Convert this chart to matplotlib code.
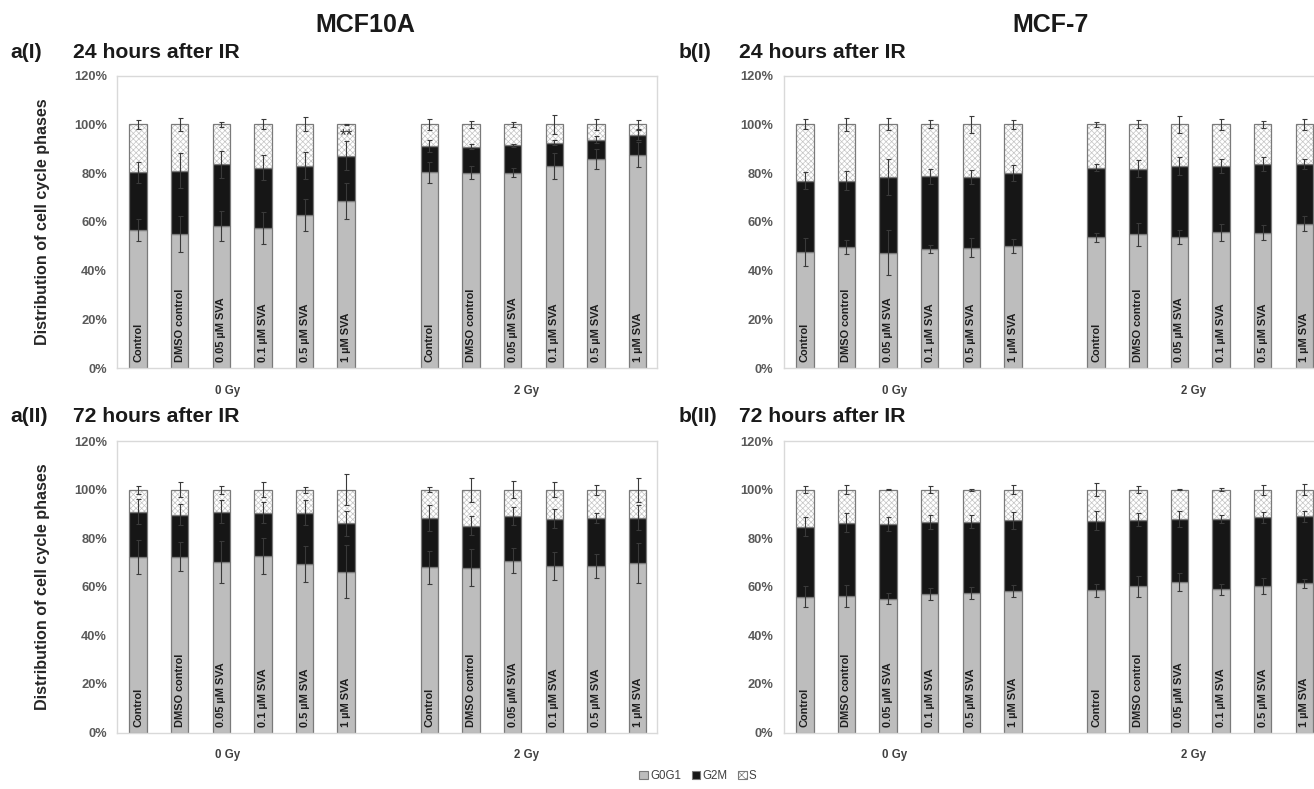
import numpy as np
import matplotlib
matplotlib.use("Agg")
import matplotlib.pyplot as plt
from matplotlib.patches import Patch

plt.rcParams['font.family'] = ['Liberation Sans', 'DejaVu Sans']
plt.rcParams['hatch.linewidth'] = 0.5

# Treatments, repeated for 0 Gy and 2 Gy
treatments = ["Control", "DMSO control", "0.05 µM SVA", "0.1 µM SVA", "0.5 µM SVA", "1 µM SVA"]
doses = ["0 Gy", "2 Gy"]
phases = ["G0G1", "G2M", "S"]

# MCF10A, 24 h after IR (percent of cells)
a1_g0g1 = [56.7, 55.2, 58.3, 57.5, 62.8, 68.7, 80.3, 80.2, 80.2, 82.9, 85.7, 87.5]
a1_g2m = [23.6, 25.7, 25.3, 24.7, 20.2, 18.4, 10.7, 10.6, 11.2, 9.6, 8.0, 8.2]
a1_s = [19.7, 19.1, 16.4, 17.8, 17.0, 12.9, 9.0, 9.2, 8.6, 7.5, 6.3, 4.3]
a1_g0g1_err = [4.5, 7.4, 6.1, 6.6, 6.7, 7.4, 4.2, 2.7, 1.9, 5.3, 4.1, 5.1]
a1_g2m_err = [4.4, 7.2, 5.6, 5.1, 5.6, 5.9, 2.4, 1.0, 0.6, 1.1, 1.5, 2.0]
a1_s_err = [1.8, 2.6, 1.1, 2.0, 2.9, 0.3, 2.2, 1.5, 1.1, 3.9, 2.3, 1.9]

# MCF-7, 24 h after IR
b1_g0g1 = [47.7, 49.6, 47.4, 49.0, 49.4, 50.0, 53.7, 54.9, 53.8, 55.7, 55.6, 59.3]
b1_g2m = [29.2, 27.3, 31.1, 29.7, 28.9, 29.9, 28.5, 26.9, 29.2, 27.2, 28.0, 24.3]
b1_s = [23.1, 23.1, 21.5, 21.3, 21.7, 20.1, 17.8, 18.2, 17.0, 17.1, 16.4, 16.4]
b1_g0g1_err = [5.6, 2.9, 9.3, 1.6, 3.8, 2.9, 1.8, 4.7, 3.0, 3.5, 3.0, 3.0]
b1_g2m_err = [3.4, 4.0, 7.3, 3.1, 2.8, 3.3, 1.5, 3.6, 3.7, 3.0, 2.9, 2.0]
b1_s_err = [2.0, 2.7, 2.5, 1.6, 3.4, 1.8, 1.1, 1.6, 3.5, 2.2, 1.5, 2.2]

# MCF10A, 72 h after IR
a2_g0g1 = [72.2, 72.5, 70.2, 72.6, 69.5, 66.3, 68.1, 67.9, 70.7, 68.6, 68.6, 69.7]
a2_g2m = [18.8, 17.3, 20.7, 18.0, 21.1, 19.8, 20.3, 17.3, 18.4, 19.5, 19.8, 18.8]
a2_s = [9.0, 10.2, 9.1, 9.4, 9.4, 13.9, 11.6, 14.8, 10.9, 11.9, 11.6, 11.5]
a2_g0g1_err = [7.0, 5.8, 8.6, 7.4, 7.3, 10.9, 6.8, 7.5, 5.1, 5.9, 4.8, 8.2]
a2_g2m_err = [5.1, 4.3, 4.7, 4.3, 5.2, 5.3, 5.5, 3.9, 3.6, 4.0, 2.2, 5.1]
a2_s_err = [1.7, 3.1, 1.6, 3.0, 1.3, 6.3, 1.1, 4.9, 3.4, 3.0, 2.1, 4.9]

# MCF-7, 72 h after IR
b2_g0g1 = [56.0, 56.1, 55.2, 57.0, 57.5, 58.3, 58.5, 60.3, 62.0, 59.0, 60.5, 61.5]
b2_g2m = [28.8, 30.4, 30.7, 29.8, 29.3, 29.2, 28.8, 27.4, 26.0, 29.0, 28.2, 27.5]
b2_s = [15.2, 13.5, 14.1, 13.2, 13.2, 12.5, 12.7, 12.3, 12.0, 12.0, 11.3, 11.0]
b2_g0g1_err = [4.4, 4.5, 2.2, 2.5, 2.5, 2.6, 2.5, 4.3, 3.7, 2.3, 3.3, 1.8]
b2_g2m_err = [3.9, 4.1, 2.8, 3.0, 2.7, 3.5, 4.0, 2.7, 3.3, 1.8, 2.2, 2.4]
b2_s_err = [1.5, 1.9, 0.3, 1.5, 0.5, 1.9, 2.7, 1.5, 0.3, 0.7, 2.0, 2.3]

yticks = [0, 20, 40, 60, 80, 100, 120]

C_G0G1 = "#bdbdbd"
C_G2M = "#161616"
C_EDGE = "#7a7a7a"
C_HATCH = "#c4c4c4"
C_ERR = "#3a3a3a"
C_TEXT = "#595959"

W, H = 1314, 789
fig = plt.figure(figsize=(W / 100, H / 100), dpi=100)


def px_axes(x0, x1, ytop, ybot):
    return fig.add_axes([x0 / W, 1 - ybot / H, (x1 - x0) / W, (ybot - ytop) / H])


labels = treatments * 2
xpos = np.array(list(range(6)) + list(range(7, 13)))
width = 0.42


def draw_panel(ax, g0, g2, s, e0, e2, es):
    g0 = np.array(g0)
    g2 = np.array(g2)
    s = np.array(s)
    cum = g0 + g2
    top = cum + s
    ax.bar(xpos, g0, width, color=C_G0G1, edgecolor=C_EDGE, linewidth=0.9, zorder=2)
    ax.bar(xpos, g2, width, bottom=g0, color=C_G2M, edgecolor=C_EDGE, linewidth=0.9, zorder=2)
    ax.bar(xpos, s, width, bottom=cum, color="white", edgecolor=C_HATCH, hatch="xxxxxx",
           linewidth=0, zorder=2)
    ax.bar(xpos, s, width, bottom=cum, fill=False, edgecolor=C_EDGE, linewidth=0.9, zorder=2.1)
    kw = dict(fmt="none", ecolor=C_ERR, elinewidth=0.8, capsize=1.8, capthick=0.8, zorder=3)
    ax.errorbar(xpos, g0, yerr=e0, **kw)
    ax.errorbar(xpos, cum, yerr=e2, **kw)
    ax.errorbar(xpos, top, yerr=es, **kw)

    for x, lab in zip(xpos, labels):
        ax.text(x, 2.4, lab, rotation=90, ha="center", va="bottom", fontsize=7.9,
                fontweight="bold", color="#1e1e1e", zorder=4)

    ax.set_xlim(-0.5, 12.46)
    ax.set_ylim(0, 120)
    ax.set_yticks(yticks)
    ax.set_yticklabels([f"{t}%" for t in yticks])
    ax.tick_params(axis="y", length=0, pad=7.5, labelsize=9.3, labelcolor=C_TEXT)
    for lab in ax.get_yticklabels():
        lab.set_fontweight("bold")
    ax.set_xticks([])
    for sp in ax.spines.values():
        sp.set_color("#d9d9d9")
        sp.set_linewidth(1.0)

    tr = ax.get_xaxis_transform()
    ax.text(2.15, -0.078, doses[0], transform=tr, ha="center", va="center",
            fontsize=8.3, fontweight="bold", color="#404040")
    ax.text(9.33, -0.078, doses[1], transform=tr, ha="center", va="center",
            fontsize=8.3, fontweight="bold", color="#404040")


ax_a1 = px_axes(117.3, 656.7, 75.5, 368.3)
ax_b1 = px_axes(784.0, 1323.4, 75.5, 368.3)
ax_a2 = px_axes(117.3, 656.7, 441.2, 732.5)
ax_b2 = px_axes(784.0, 1323.4, 441.2, 732.5)

draw_panel(ax_a1, a1_g0g1, a1_g2m, a1_s, a1_g0g1_err, a1_g2m_err, a1_s_err)
draw_panel(ax_b1, b1_g0g1, b1_g2m, b1_s, b1_g0g1_err, b1_g2m_err, b1_s_err)
draw_panel(ax_a2, a2_g0g1, a2_g2m, a2_s, a2_g0g1_err, a2_g2m_err, a2_s_err)
draw_panel(ax_b2, b2_g0g1, b2_g2m, b2_s, b2_g0g1_err, b2_g2m_err, b2_s_err)

# significance marker for 1 µM SVA, 0 Gy, 24 h
ax_a1.text(xpos[5], 95.3, "**", ha="center", va="center", fontsize=12.5, color="#333333")


def ftext(x, y, s, **kw):
    fig.text(x / W, 1 - y / H, s, **kw)


ftext(365, 25, "MCF10A", ha="center", va="center", fontsize=18, fontweight="bold", color="#1a1a1a")
ftext(1051, 25, "MCF-7", ha="center", va="center", fontsize=18, fontweight="bold", color="#1a1a1a")

for (xl, xt, y, tag, title) in [
    (10, 73, 52, "a(I)", "24 hours after IR"),
    (679, 739, 52, "b(I)", "24 hours after IR"),
    (10, 73, 417, "a(II)", "72 hours after IR"),
    (679, 739, 417, "b(II)", "72 hours after IR"),
]:
    ftext(xl, y, tag, ha="left", va="center", fontsize=15.2, fontweight="bold", color="#1a1a1a")
    ftext(xt, y, title, ha="left", va="center", fontsize=15.2, fontweight="bold", color="#1a1a1a")

for yc in [(75.5 + 368.3) / 2, (441.2 + 732.5) / 2]:
    ftext(43, yc, "Distribution of cell cycle phases", rotation=90, ha="center", va="center",
          fontsize=11.6, fontweight="bold", color="#262626")

handles = [
    Patch(facecolor=C_G0G1, edgecolor=C_EDGE, linewidth=0.8),
    Patch(facecolor=C_G2M, edgecolor=C_EDGE, linewidth=0.8),
    Patch(facecolor="white", edgecolor=C_EDGE, hatch="xxxx", linewidth=0.8),
]
fig.legend(handles, phases, loc="center", bbox_to_anchor=(698 / W, 1 - 776 / H), ncol=3,
           frameon=False, fontsize=8.3, handlelength=0.75, handleheight=0.75,
           handletextpad=0.2, columnspacing=0.9, labelcolor="#404040")

fig.savefig("out.png", dpi=100)
